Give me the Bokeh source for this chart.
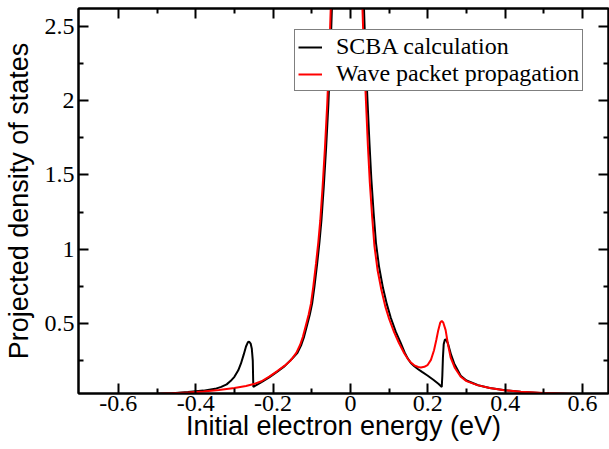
from bokeh.plotting import figure
from bokeh.models import FixedTicker, LinearAxis, Range1d, Legend, LegendItem
from bokeh.embed import file_html
from bokeh.resources import INLINE

# SCBA calculation (black)
scba_x = [-0.50, -0.46, -0.42, -0.38, -0.35, -0.334, -0.32, -0.31, -0.30, -0.29,
          -0.283, -0.276, -0.270, -0.265, -0.262, -0.258, -0.255, -0.2525, -0.2515, -0.251,
          -0.247, -0.24, -0.23, -0.21, -0.19, -0.17, -0.151, -0.137, -0.127, -0.120,
          -0.112, -0.105, -0.099, -0.093, -0.086, -0.080, -0.075, -0.069, -0.063, -0.057,
          -0.052, -0.047, -0.042, -0.027, -0.005, 0.015, 0.029, 0.034, 0.039, 0.044,
          0.049, 0.054, 0.060, 0.066, 0.074, 0.084, 0.094, 0.104, 0.117, 0.129,
          0.140, 0.148, 0.156, 0.165, 0.175, 0.185, 0.199, 0.215, 0.228, 0.236,
          0.2375, 0.239, 0.241, 0.244, 0.247, 0.252, 0.260, 0.268, 0.285, 0.30,
          0.33, 0.36, 0.40, 0.44, 0.50, 0.575]
scba_y = [0.027, 0.031, 0.038, 0.048, 0.060, 0.073, 0.090, 0.112, 0.141, 0.185,
          0.231, 0.29, 0.345, 0.374, 0.378, 0.365, 0.33, 0.25, 0.12, 0.073,
          0.080, 0.090, 0.105, 0.137, 0.174, 0.213, 0.262, 0.302, 0.357, 0.41,
          0.49, 0.56, 0.635, 0.75, 0.904, 1.05, 1.195, 1.42, 1.68, 1.98,
          2.30, 2.70, 3.1, 3.8, 4.2, 3.8, 3.1, 2.70, 2.30, 2.00,
          1.72, 1.47, 1.24, 1.04, 0.88, 0.74, 0.63, 0.54, 0.445, 0.375,
          0.305, 0.265, 0.234, 0.212, 0.192, 0.174, 0.150, 0.119, 0.092, 0.073,
          0.15, 0.27, 0.36, 0.39, 0.392, 0.365, 0.29, 0.231, 0.148, 0.116,
          0.084, 0.066, 0.050, 0.040, 0.031, 0.026]

# Wave packet propagation (red)
wp_x = [-0.50, -0.46, -0.42, -0.38, -0.34, -0.30, -0.27, -0.25, -0.23, -0.21,
        -0.19, -0.17, -0.154, -0.14, -0.13, -0.123, -0.115, -0.108, -0.102, -0.096,
        -0.089, -0.083, -0.078, -0.072, -0.066, -0.060, -0.055, -0.050, -0.045, -0.030,
        -0.010, 0.010, 0.025, 0.030, 0.035, 0.040, 0.045, 0.050, 0.056, 0.062,
        0.070, 0.080, 0.090, 0.100, 0.113, 0.125, 0.139, 0.148, 0.156, 0.165,
        0.175, 0.182, 0.191, 0.199, 0.208, 0.216, 0.222, 0.227, 0.232, 0.236,
        0.240, 0.246, 0.252, 0.259, 0.270, 0.285, 0.30, 0.328, 0.36, 0.397,
        0.44, 0.50, 0.575]
wp_y = [0.026, 0.030, 0.035, 0.042, 0.052, 0.066, 0.079, 0.092, 0.111, 0.142,
        0.178, 0.216, 0.253, 0.302, 0.357, 0.41, 0.49, 0.56, 0.635, 0.75,
        0.904, 1.05, 1.195, 1.42, 1.68, 1.98, 2.30, 2.70, 3.1, 3.8,
        4.2, 3.8, 3.1, 2.70, 2.30, 2.00, 1.70, 1.45, 1.22, 1.02,
        0.86, 0.725, 0.615, 0.53, 0.44, 0.37, 0.30, 0.262, 0.238, 0.218,
        0.207, 0.204, 0.208, 0.219, 0.255, 0.32, 0.39, 0.455, 0.505, 0.518,
        0.505, 0.455, 0.36, 0.27, 0.20, 0.141, 0.112, 0.085, 0.066, 0.051,
        0.040, 0.032, 0.026]

x_ticks = [-0.6, -0.4, -0.2, 0.0, 0.2, 0.4, 0.6]
x_tick_labels = ["-0.6", "-0.4", "-0.2", "0", "0.2", "0.4", "0.6"]
x_minor = [-0.5, -0.3, -0.1, 0.1, 0.3, 0.5]
y_ticks = [0.5, 1.0, 1.5, 2.0, 2.5]
y_tick_labels = ["0.5", "1", "1.5", "2", "2.5"]
y_minor = [0.25, 0.75, 1.25, 1.75, 2.25]

p = figure(width=609, height=449,
           x_range=Range1d(-0.703, 0.667), y_range=Range1d(0.0286, 2.62),
           output_backend="svg", toolbar_location=None,
           min_border_left=77, min_border_right=1, min_border_top=8, min_border_bottom=56)
p.grid.visible = False
p.outline_line_color = "black"
p.outline_line_width = 2
p.background_fill_color = "white"
p.border_fill_color = "white"

xt = FixedTicker(ticks=x_ticks, minor_ticks=x_minor)
yt = FixedTicker(ticks=y_ticks, minor_ticks=y_minor)

def style(ax, labels):
    ax.axis_line_color = "black"
    ax.axis_line_width = 2
    ax.major_tick_line_width = 2
    ax.minor_tick_line_width = 2
    ax.major_tick_in = 10
    ax.major_tick_out = 0
    ax.minor_tick_in = 5
    ax.minor_tick_out = 0
    if not labels:
        ax.major_label_text_font_size = "0px"
        ax.major_label_text_color = None
        ax.major_label_standoff = 0
        ax.axis_label = None

p.xaxis.ticker = xt
p.yaxis.ticker = yt
style(p.xaxis[0], True)
style(p.yaxis[0], True)
p.xaxis.major_label_overrides = {v: s for v, s in zip(x_ticks, x_tick_labels)}
p.yaxis.major_label_overrides = {v: s for v, s in zip(y_ticks, y_tick_labels)}
for ax in (p.xaxis[0], p.yaxis[0]):
    ax.major_label_text_font = "Liberation Serif"
    ax.major_label_text_font_size = "24px"
    ax.major_label_text_color = "black"
    ax.axis_label_text_font = "Liberation Sans"
    ax.axis_label_text_font_size = "27px"
    ax.axis_label_text_font_style = "normal"
    ax.axis_label_text_color = "black"
p.xaxis.axis_label = "Initial electron energy (eV)"
p.yaxis.axis_label = "Projected density of states"
p.xaxis.major_label_standoff = 2
p.xaxis.axis_label_standoff = -3
p.yaxis.major_label_standoff = 4
p.yaxis.axis_label_standoff = 8

top = LinearAxis(ticker=xt)
right = LinearAxis(ticker=yt)
style(top, False)
style(right, False)
p.add_layout(top, "above")
p.add_layout(right, "right")

r1 = p.line(scba_x, scba_y, line_color="black", line_width=2)
r2 = p.line(wp_x, wp_y, line_color="#ff0000", line_width=2)

legend = Legend(items=[LegendItem(label="SCBA calculation", renderers=[r1]),
                       LegendItem(label="Wave packet propagation", renderers=[r2])],
                location=(216, 302))
legend.label_text_font = "Liberation Serif"
legend.label_text_font_size = "24px"
legend.label_text_color = "black"
legend.glyph_width = 24
legend.glyph_height = 20
legend.label_height = 20
legend.label_standoff = 14
legend.padding = 3
legend.spacing = 0
legend.margin = 0
legend.border_line_color = "black"
legend.border_line_width = 1.5
legend.background_fill_alpha = 1.0
p.add_layout(legend, "center")

open("out.html", "w").write(file_html(p, INLINE))
